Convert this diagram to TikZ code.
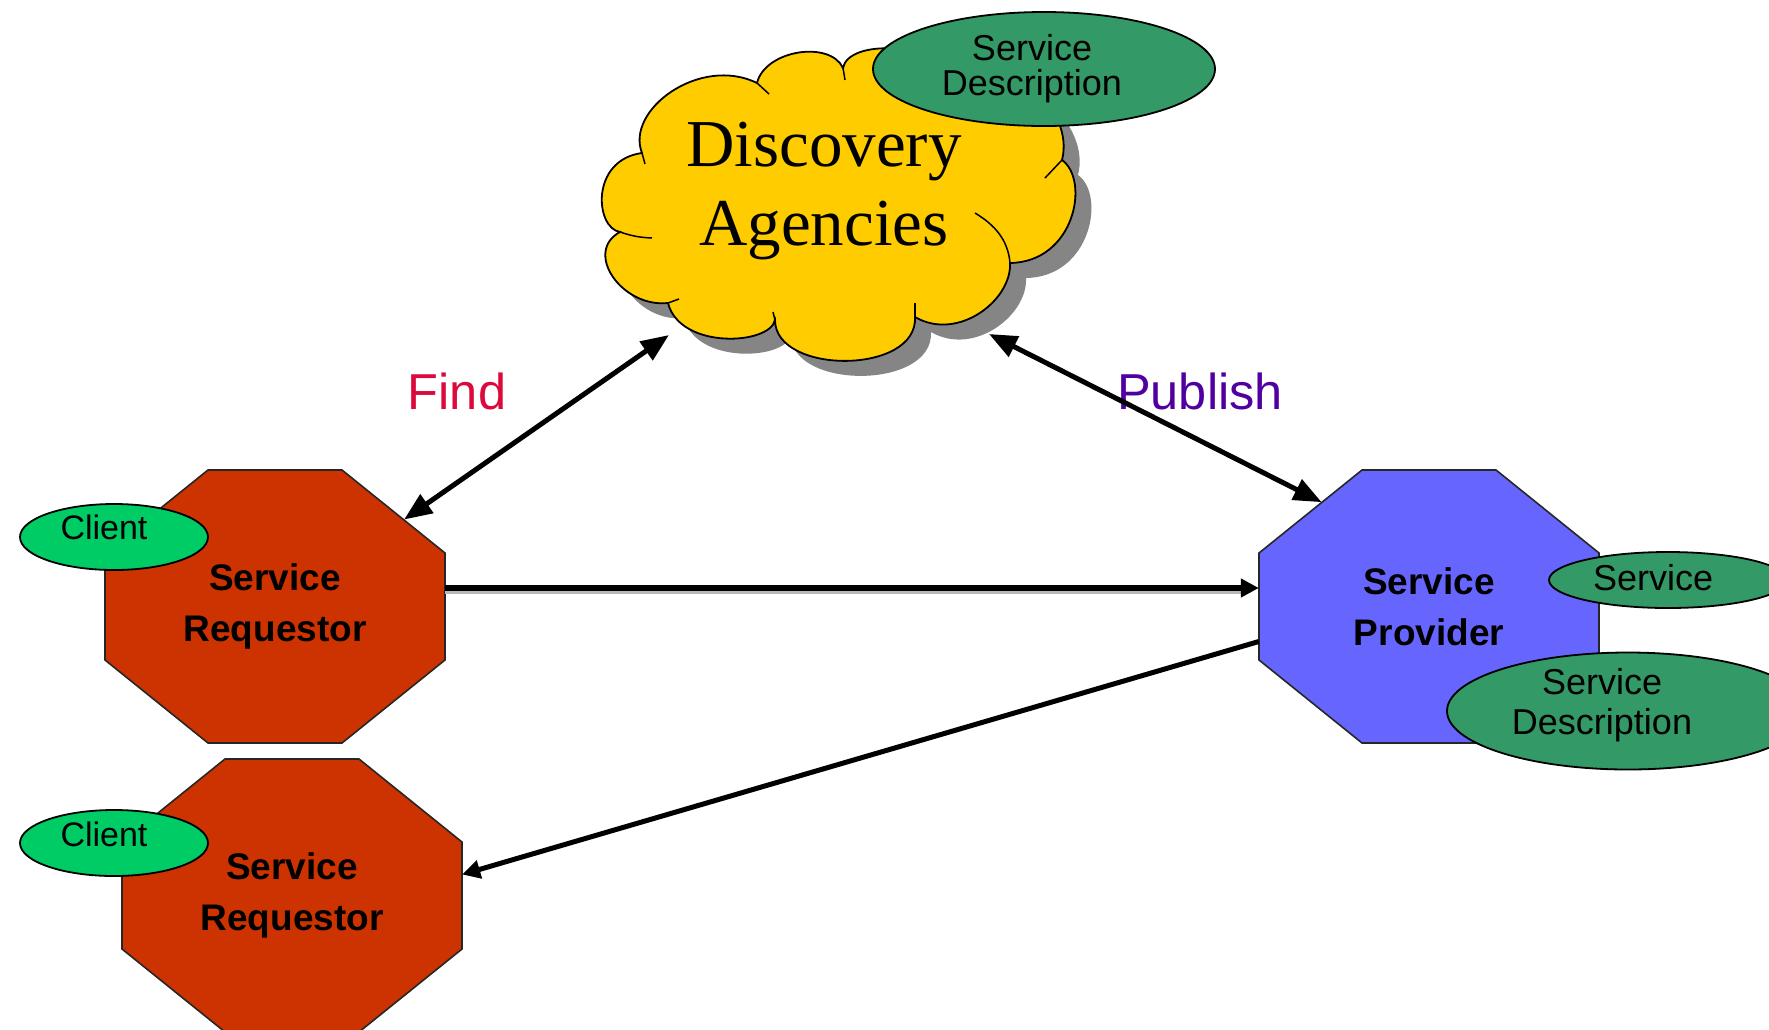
\documentclass[tikz,border=0pt]{standalone}
\usepackage{fontspec}
\setmainfont{Liberation Sans}
\newfontfamily\daserif{Liberation Serif}
\usetikzlibrary{shapes.geometric,arrows.meta,calc}
\definecolor{cloudyellow}{HTML}{FFCC00}
\definecolor{cloudshade}{HTML}{858585}
\definecolor{descgreen}{HTML}{339966}
\definecolor{clientgreen}{HTML}{00CC66}
\definecolor{reqred}{HTML}{CC3300}
\definecolor{provblue}{HTML}{6666FF}
\definecolor{findred}{HTML}{DC0A3C}
\definecolor{pubpurple}{HTML}{5000A0}
\begin{document}
\begin{tikzpicture}[x=1pt,y=-1pt,
  outline/.style={draw=black, line width=1.8pt},
  cloudpath/.style={insert path={
    (668,303) .. controls (622,308) and (583,252) .. (620,232)
    .. controls (595,228) and (590,160) .. (642,153)
    .. controls (625,110) and (700,55) .. (757,83)
    .. controls (765,50) and (830,40) .. (843,68)
    .. controls (848,40) and (930,40) .. (960,80)
    .. controls (1010,50) and (1075,110) .. (1062,160)
    .. controls (1090,180) and (1075,262) .. (1010,263)
    .. controls (1012,300) and (958,342) .. (915,317)
    .. controls (918,375) and (775,375) .. (775,320)
    .. controls (770,345) and (680,350) .. (668,303) -- cycle}},
  octo/.pic={\draw[fill=#1, draw=black!85, line width=1.6pt]
    (-67,-136.5) -- (67,-136.5) -- (170,-53.5) -- (170,53.5) -- (67,136.5)
    -- (-67,136.5) -- (-170,53.5) -- (-170,-53.5) -- cycle;},
  octlabel/.style={rectangle, minimum width=340pt, minimum height=273pt,
    inner sep=0pt, align=center, font=\fontsize{37}{51}\selectfont\bfseries},
  oval/.style={ellipse, outline, inner sep=0pt, align=center},
  desctext/.style={font=\fontsize{36}{#1}\selectfont, align=center, inner sep=0pt},
  clienttext/.style={font=\fontsize{34}{36}\selectfont, inner sep=0pt},
  arr/.style={line width=5pt, draw=black},
  bigtip/.style={>={Triangle[length=28pt,width=22pt]}},
  smalltip/.style={>={Triangle[length=18pt,width=18pt]}}
]
\fill[white] (0,0) rectangle (1769,1029);
\useasboundingbox (0,0) rectangle (1769,1029);

% discovery cloud with its drop shadow
\fill[cloudshade, shift={(16,15)}, cloudpath];
\draw[fill=cloudyellow, line width=1.8pt, cloudpath];
\begin{scope}[line width=1.5pt]
  \draw (668,303) -- (679,299);
  \draw (620,232) to[bend right=8] (652,238);
  \draw (642,153) -- (645,164);
  \draw (757,83) -- (769,94);
  \draw (843,68) -- (845,80);
  \draw (1062,160) -- (1045,178);
  \draw (1010,263) .. controls (1008,240) and (995,225) .. (975,213);
  \draw (915,317) -- (915,303);
  \draw (775,320) -- (773,312);
\end{scope}
\node[font=\fontsize{67}{79}\selectfont\daserif, align=center] (da) at (824,191) {Discovery\\Agencies};
\node[oval, fill=descgreen, minimum width=342pt, minimum height=114pt] (sdtop) at (1044,69) {};
\node[desctext=35] (sdtoptext) at (1032,69) {Service\\Description};

% requestors and provider
\pic at (275,606.5) {octo=reqred};
\node[octlabel] (req1) at (275,606.5) {Service\\Requestor};
\pic at (292,895.5) {octo=reqred};
\node[octlabel] (req2) at (292,895.5) {Service\\Requestor};
\pic at (1429,606.5) {octo=provblue};
\node[octlabel] (prov) at (1429,606.5) {Service\\Provider};

\node[oval, fill=clientgreen, minimum width=188pt, minimum height=66pt] (cl1) at (114,537) {};
\node[clienttext] (cl1text) at (104,527) {Client};
\node[oval, fill=clientgreen, minimum width=188pt, minimum height=66pt] (cl2) at (114,843) {};
\node[clienttext] (cl2text) at (104,834) {Client};
\node[oval, fill=descgreen, minimum width=238pt, minimum height=56pt] (svc) at (1668,580) {};
\node[desctext=36] (svctext) at (1653,578) {Service};
\node[oval, fill=descgreen, minimum width=362pt, minimum height=117pt] (sdprov) at (1628,711) {};
\node[desctext=40] (sdprovtext) at (1602,705) {Service\\Description};

% labels
\node[font=\fontsize{50.5}{52}\selectfont, text=findred] (find) at (457,391) {Find};
\node[font=\fontsize{50.5}{52}\selectfont, text=pubpurple] (pub) at (1200,391) {Publish};

% connectors
\coordinate (fa) at (669,335);
\coordinate (pa) at (989,334);
\coordinate (req1ne) at ($([xshift=-103pt]req1.north east)!0.6!([yshift=-83pt]req1.north east)$);
\coordinate (provnw) at ($([xshift=103pt]prov.north west)!0.39!([yshift=-83pt]prov.north west)$);
\draw[arr, bigtip, <->] (fa) -- (req1ne);
\draw[arr, bigtip, <->] (pa) -- (provnw);
\draw[line width=3pt, black!28] ([yshift=14.5pt]req1.east) -- ([yshift=14.5pt,xshift=-16pt]prov.west);
\draw[arr, line width=6pt, smalltip, ->] ([yshift=18.5pt]req1.east) -- ([yshift=18.5pt]prov.west);
\draw[arr, smalltip, ->] ([yshift=-35pt]prov.west) -- ([yshift=21pt]req2.east);
\end{tikzpicture}
\end{document}
